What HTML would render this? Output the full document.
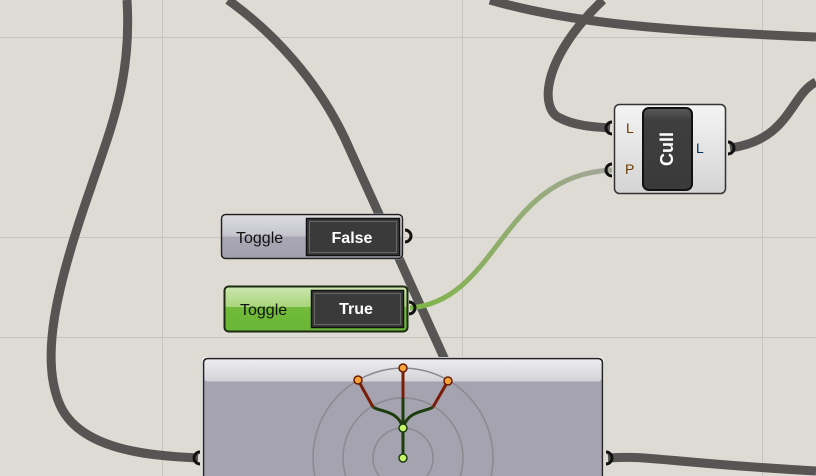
<!DOCTYPE html>
<html><head><meta charset="utf-8"><style>
html,body{margin:0;padding:0;width:816px;height:476px;overflow:hidden;background:#dddbd4}
svg{display:block}
text{font-family:"Liberation Sans",Arial,sans-serif}
</style></head><body>
<svg width="816" height="476" viewBox="0 0 816 476">
<defs>
<linearGradient id="hdr" x1="0" y1="0" x2="0" y2="1"><stop offset="0" stop-color="#eeeef0"/><stop offset="1" stop-color="#d2d2d8"/></linearGradient>
<linearGradient id="tgl" x1="0" y1="0" x2="0" y2="1"><stop offset="0" stop-color="#dcdce2"/><stop offset="0.5" stop-color="#c4c4cc"/><stop offset="0.5" stop-color="#a8a7b3"/><stop offset="1" stop-color="#a2a1ad"/></linearGradient>
<linearGradient id="tgg" x1="0" y1="0" x2="0" y2="1"><stop offset="0" stop-color="#cde6b0"/><stop offset="0.45" stop-color="#a9d67c"/><stop offset="0.45" stop-color="#72bb3b"/><stop offset="1" stop-color="#6ab636"/></linearGradient>
<linearGradient id="cull" x1="0" y1="0" x2="0" y2="1"><stop offset="0" stop-color="#f4f4f4"/><stop offset="1" stop-color="#d4d4d4"/></linearGradient>
<linearGradient id="btn" x1="0" y1="0" x2="0" y2="1"><stop offset="0" stop-color="#5a5a5a"/><stop offset="0.15" stop-color="#3e3e3e"/><stop offset="1" stop-color="#3a3a3a"/></linearGradient>
<linearGradient id="gw" x1="0" y1="0" x2="1" y2="0"><stop offset="0" stop-color="#7fb546"/><stop offset="1" stop-color="#a3a59a"/></linearGradient>
</defs>
<g stroke="#c6c4bd" stroke-width="1">
<line x1="162.5" y1="0" x2="162.5" y2="476"/><line x1="462.5" y1="0" x2="462.5" y2="476"/><line x1="762.5" y1="0" x2="762.5" y2="476"/>
<line x1="0" y1="37.5" x2="816" y2="37.5"/><line x1="0" y1="237.5" x2="816" y2="237.5"/><line x1="0" y1="337.5" x2="816" y2="337.5"/>
</g>
<g fill="none" stroke="#565553" stroke-width="9" stroke-linecap="butt">
<path d="M127,0 C132,80 110,130 90,190 C55,290 40,360 60,405 C80,450 150,456 198,458"/>
<path d="M228,0 C270,30 320,80 350,150 L445,360"/>
<path d="M490,0 C560,20 640,30 816,37"/>
<path d="M603,0 C540,60 540,110 560,118 C575,126 595,127 610,128"/>
<path d="M730,148 C790,140 790,95 816,82"/>
<path d="M608,458 C650,455 660,462 816,471"/>
</g>
<path d="M410,308 C500,300 500,175 612,170" fill="none" stroke="url(#gw)" stroke-width="5"/>

<g>
<rect x="614.5" y="104.5" width="111" height="89" rx="5" fill="url(#cull)" stroke="#333" stroke-width="1.5"/>
<rect x="643" y="108" width="49" height="82" rx="6" fill="url(#btn)" stroke="#111" stroke-width="2"/>
<text x="0" y="0" transform="translate(673,149) rotate(-90)" text-anchor="middle" font-size="18" font-weight="bold" fill="#fff">Cull</text>
<text x="626" y="133" font-size="14" fill="#6a3a00">L</text>
<text x="625" y="174" font-size="14" fill="#6a3a00">P</text>
<text x="696" y="153" font-size="14" fill="#00305a">L</text>
<path d="M612,122 a6,6 0 0 0 0,12" fill="none" stroke="#111" stroke-width="3"/>
<path d="M612,164 a6,6 0 0 0 0,12" fill="none" stroke="#111" stroke-width="3"/>
<path d="M728,142 a6,6 0 0 1 0,12" fill="none" stroke="#111" stroke-width="3"/>
</g>

<g>
<rect x="220.5" y="213.5" width="183" height="46" rx="5" fill="#fff" stroke="none"/>
<rect x="221.5" y="214.5" width="181" height="44" rx="4" fill="url(#tgl)" stroke="#222" stroke-width="1.5"/>
<text x="236" y="243" font-size="16" fill="#111">Toggle</text>
<rect x="306.5" y="218.5" width="93" height="37" fill="#3a3a3a" stroke="#111" stroke-width="1.5"/>
<rect x="309.5" y="221.5" width="87" height="31" fill="none" stroke="#666" stroke-width="1"/>
<text x="352" y="243" text-anchor="middle" font-size="16" font-weight="bold" fill="#fff">False</text>
<path d="M405,230 a6,6 0 0 1 0,12" fill="none" stroke="#111" stroke-width="3"/>
</g>
<g>
<rect x="224.5" y="286.5" width="183" height="45" rx="4" fill="url(#tgg)" stroke="#1b2a10" stroke-width="2"/>
<text x="240" y="315" font-size="16" fill="#111">Toggle</text>
<rect x="311.5" y="290.5" width="92" height="37" fill="#3a3a3a" stroke="#111" stroke-width="1.5"/>
<rect x="314.5" y="293.5" width="86" height="31" fill="none" stroke="#666" stroke-width="1"/>
<text x="356" y="314" text-anchor="middle" font-size="16" font-weight="bold" fill="#fff">True</text>
<path d="M409,302 a6,6 0 0 1 0,12" fill="none" stroke="#111" stroke-width="3"/>
</g>

<g>
<path d="M202,476 L202,362 Q202,357 207,357 L599,357 Q604,357 604,362 L604,476 Z" fill="#fff"/>
<path d="M203.5,476 L203.5,363 Q203.5,358.5 208,358.5 L598,358.5 Q602.5,358.5 602.5,363 L602.5,476" fill="#a4a3af" stroke="#222" stroke-width="1.5"/>
<rect x="204.5" y="359.5" width="397" height="22" rx="3" fill="url(#hdr)"/>
<g fill="none" stroke="#8a8a90" stroke-width="1.5">
<path d="M379,476 A30,30 0 1 1 427,476"/>
<path d="M345.8,476 A60,60 0 1 1 460.2,476"/>
<path d="M314.8,476 A90,90 0 1 1 491.2,476"/>
</g>
<g fill="none" stroke-width="3">
<path d="M403,458 L403,428 L403,398" stroke="#1d3d10"/>
<path d="M403,428 C398,410 380,412 373,407 M403,428 C408,410 426,412 433,407" stroke="#1d3d10"/>
<path d="M403,398 L403,368 M373,407 L358,380 M433,407 L448,381" stroke="#7a1d08"/>
</g>
<g stroke="#6a1a05" stroke-width="1.5" fill="#f5a53a">
<circle cx="358" cy="380" r="4"/><circle cx="403" cy="368" r="4"/><circle cx="448" cy="381" r="4"/>
</g>
<g stroke="#1d3d10" stroke-width="1.5" fill="#c8f76a">
<circle cx="403" cy="428" r="4"/><circle cx="403" cy="458" r="4"/>
</g>
<path d="M200,452 a6,6 0 0 0 0,12" fill="none" stroke="#111" stroke-width="3"/>
<path d="M606,452 a6,6 0 0 1 0,12" fill="none" stroke="#111" stroke-width="3"/>
</g>
</svg>
</body></html>
